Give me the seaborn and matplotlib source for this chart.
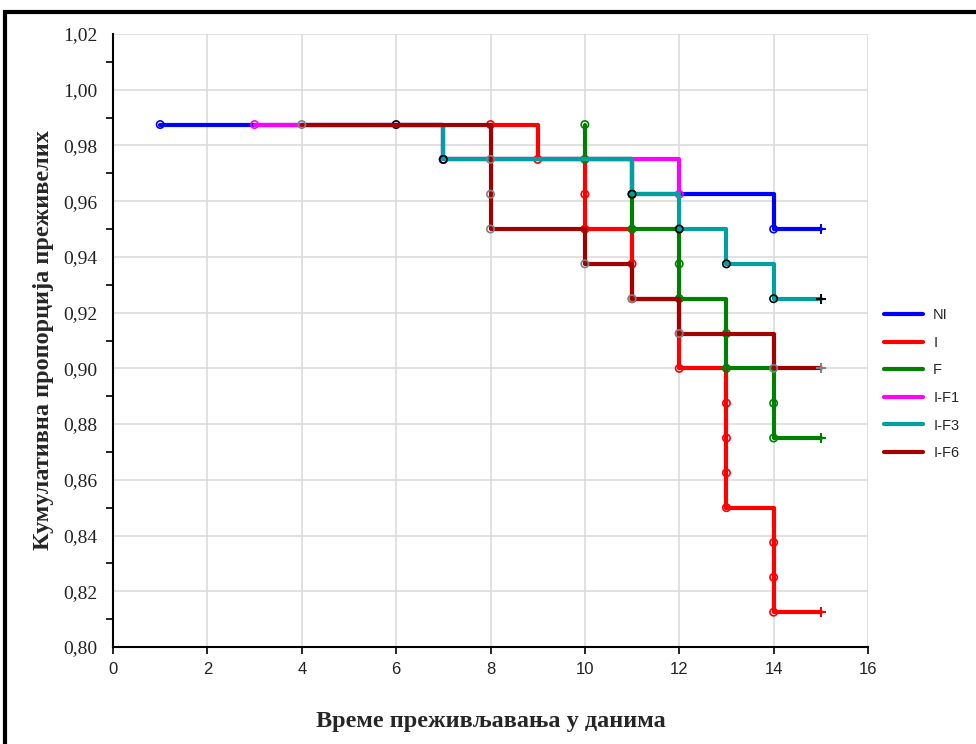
import numpy as np
import pandas as pd
import matplotlib
matplotlib.use("Agg")
import matplotlib.pyplot as plt
from matplotlib.patches import Rectangle
from matplotlib.lines import Line2D
from matplotlib.ticker import MultipleLocator, FuncFormatter
import seaborn as sns

# ---- data: one row per death (time, cumulative survival after it) ----
series_names = ["NI", "I", "F", "I-F1", "I-F3", "I-F6"]
line_colors = ["#0000FF", "#FF0000", "#008000", "#FF00FF", "#00A0A0", "#A00000"]
marker_colors = ["#0000FF", "#FF0000", "#008000", "#FF00FF", "#000000", "#808080"]

NI_t = [1, 7, 11, 14]
NI_s = [0.9875, 0.975, 0.9625, 0.95]
I_t = [8, 9, 10, 10, 11, 11, 12, 12, 13, 13, 13, 13, 14, 14, 14]
I_s = [0.9875, 0.975, 0.9625, 0.95, 0.9375, 0.925, 0.9125, 0.90,
       0.8875, 0.875, 0.8625, 0.85, 0.8375, 0.825, 0.8125]
F_t = [10, 10, 11, 11, 12, 12, 13, 13, 14, 14]
F_s = [0.9875, 0.975, 0.9625, 0.95, 0.9375, 0.925, 0.9125, 0.90, 0.8875, 0.875]
IF1_t = [3, 7, 12]
IF1_s = [0.9875, 0.975, 0.9625]
IF3_t = [6, 7, 11, 12, 13, 14]
IF3_s = [0.9875, 0.975, 0.9625, 0.95, 0.9375, 0.925]
IF6_t = [4, 8, 8, 8, 10, 11, 12, 14]
IF6_s = [0.9875, 0.975, 0.9625, 0.95, 0.9375, 0.925, 0.9125, 0.90]

times = [NI_t, I_t, F_t, IF1_t, IF3_t, IF6_t]
surv = [NI_s, I_s, F_s, IF1_s, IF3_s, IF6_s]
end_time = [15, 15, 15, 12, 15, 15]     # last observation (censored '+')
censored = [True, True, True, False, True, True]

x_label = "Време преживљавања у данима"
y_label = "Кумулативна пропорција преживелих"

# ---- figure ----
sns.set_style("white")
fig = plt.figure(figsize=(9.76, 7.44), dpi=100)
ax = fig.add_axes([113 / 976, 1 - 647 / 744, 755 / 976, (647 - 34) / 744])

fig.patches.append(Rectangle((5 / 976, -0.1), 1.2, (744 - 12) / 744 + 0.1,
                             transform=fig.transFigure, fill=False,
                             edgecolor="black", linewidth=3, zorder=0))

for i, name in enumerate(series_names):
    t = list(times[i]) + [end_time[i]]
    s = list(surv[i]) + [surv[i][-1]]
    df = pd.DataFrame({"t": t, "s": s})
    sns.lineplot(data=df, x="t", y="s", ax=ax, estimator=None, sort=False,
                 drawstyle="steps-post", color=line_colors[i], linewidth=3,
                 label=name, zorder=2 + i)
    dm = pd.DataFrame({"t": times[i], "s": surv[i]})
    sns.scatterplot(data=dm, x="t", y="s", ax=ax, marker="o", s=28,
                    facecolors="none", edgecolor=marker_colors[i],
                    linewidth=1.2, zorder=2.5 + i, legend=False)
    if censored[i]:
        dc = pd.DataFrame({"t": [end_time[i]], "s": [surv[i][-1]]})
        sns.scatterplot(data=dc, x="t", y="s", ax=ax, marker="+", s=60,
                        color=marker_colors[i], linewidth=1.5,
                        zorder=2.5 + i, legend=False)

ax.set_xlim(0, 16)
ax.set_ylim(0.80, 1.02)
ax.xaxis.set_major_locator(MultipleLocator(2))
ax.yaxis.set_major_locator(MultipleLocator(0.02))
ax.yaxis.set_minor_locator(MultipleLocator(0.01))
ax.yaxis.set_major_formatter(FuncFormatter(lambda v, p: f"{v:.2f}".replace(".", ",")))
ax.grid(True, which="major", color="#dcdcdc", linewidth=1.2, zorder=0)
ax.set_axisbelow(True)

for sp in ["top", "right"]:
    ax.spines[sp].set_visible(False)
for sp in ["left", "bottom"]:
    ax.spines[sp].set_color("black")
    ax.spines[sp].set_linewidth(1.5)

ax.tick_params(axis="both", which="both", direction="out", color="black")
ax.tick_params(axis="y", which="major", length=5, width=1.2, pad=6)
ax.tick_params(axis="y", which="minor", length=5, width=1.2, left=True)
ax.tick_params(axis="x", which="major", length=5, width=1.2, bottom=True, pad=6)
for lab in ax.get_yticklabels():
    lab.set_fontfamily("Liberation Serif")
    lab.set_fontsize(14)
    lab.set_color("#222222")
for lab in ax.get_xticklabels():
    lab.set_fontfamily("Liberation Sans")
    lab.set_fontsize(12)
    lab.set_color("#222222")

ax.set_xlabel(x_label, fontfamily="Liberation Serif", fontweight="bold",
              fontsize=17.5, labelpad=24)
ax.set_ylabel(y_label, fontfamily="Liberation Serif", fontweight="bold",
              fontsize=17.5, labelpad=7)

handles = [Line2D([0], [0], color=c, linewidth=3) for c in line_colors]
leg = ax.legend(handles, series_names, loc="upper left",
                bbox_to_anchor=(1.013, 0.562), frameon=False,
                prop={"family": "Liberation Sans", "size": 10.5},
                handlelength=2.7, handletextpad=0.7, labelspacing=0.93,
                borderaxespad=0)

fig.savefig("out.png", dpi=100)
